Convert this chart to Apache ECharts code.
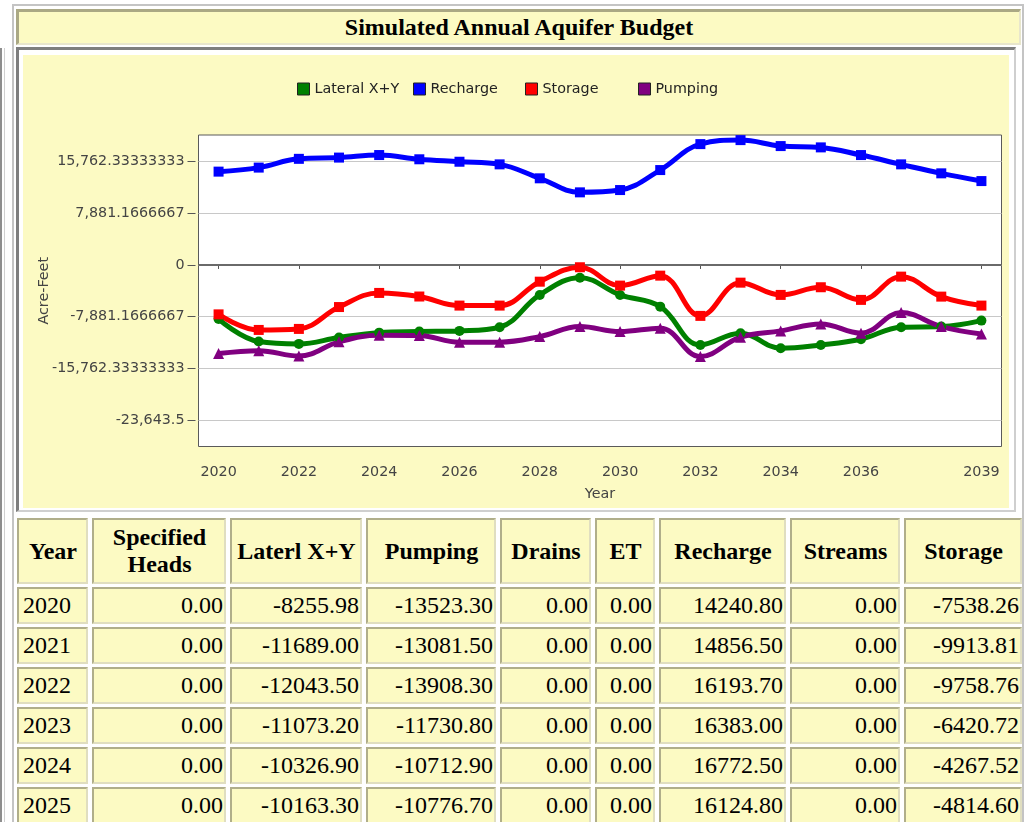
<!DOCTYPE html>
<html><head><meta charset="utf-8">
<script src="https://cdn.jsdelivr.net/npm/echarts@6/dist/echarts.min.js"></script>
<style>
html,body{margin:0;padding:0;width:1030px;height:822px;overflow:hidden;background:#fff;}
#leftbar{position:absolute;left:0;top:48px;width:2px;height:800px;border-left:2px solid #8e8e8e;border-right:1px solid #d0d0d0;}
#frame{position:absolute;left:12px;top:4px;width:1008px;height:900px;border:2px solid #c4c4c4;border-bottom:none;}
#title{position:absolute;left:16px;top:9px;width:1000px;height:31px;background:#FCFAC3;
  border-style:solid;border-width:3px 2px 2px 3px;border-color:#aaa884 #e8e6cc #e8e6cc #aaa884;
  font-family:"Liberation Serif",serif;font-weight:bold;font-size:24px;line-height:31px;text-align:center;color:#000;}
#chartcell{position:absolute;left:16px;top:47px;width:995px;height:460px;background:#fff;
  border-style:solid;border-width:3px 2px 2px 3px;border-color:#7e7e7e #cfcfcf #cfcfcf #7e7e7e;}
#chart{position:absolute;left:23px;top:55px;width:986px;height:453px;background:#FCFAC3;}
#tbl{position:absolute;left:17px;top:518px;display:grid;
  grid-template-columns:71px 134px 132px 130px 91px 60px 127px 110px 118px;
  grid-template-rows:66px;grid-auto-rows:37px;column-gap:4px;row-gap:3px;}
.c{box-sizing:border-box;background:#FCFAC3;border-style:solid;border-width:2px;
  border-color:#b0ae8a #e0dec0 #e0dec0 #b0ae8a;font-family:"Liberation Serif",serif;font-size:24px;color:#000;
  display:flex;align-items:center;justify-content:flex-end;padding:0 1px 0 2px;white-space:nowrap;}
.h{font-weight:bold;justify-content:center;text-align:center;line-height:27px;white-space:normal;}
.y{justify-content:flex-start;padding-left:4px;}
</style></head><body>
<div id="leftbar"></div>
<div id="frame"></div>
<div id="title">Simulated Annual Aquifer Budget</div>
<div id="chartcell"></div>
<div id="chart"></div>
<div id="tbl"></div>
<script>
// ---- data ----
const years = [2020,2021,2022,2023,2024,2025,2026,2027,2028,2029,2030,2031,2032,2033,2034,2035,2036,2037,2038,2039];
const lateral = [-8255.98,-11689.00,-12043.50,-11073.20,-10326.90,-10163.30,-10060,-9500,-4570,-1940,-4570,-6360,-12200,-10410,-12700,-12200,-11330,-9500,-9400,-8490];
const recharge = [14240.80,14856.50,16193.70,16383.00,16772.50,16124.80,15750,15350,13220,11080,11430,14480,18440,19050,18140,17940,16770,15350,13980,12800];
const storage = [-7538.26,-9913.81,-9758.76,-6420.72,-4267.52,-4814.60,-6200,-6200,-2550,-350,-3150,-1630,-7770,-2700,-4570,-3400,-5330,-1780,-4830,-6200];
const pumping = [-13523.30,-13081.50,-13908.30,-11730.80,-10712.90,-10776.70,-11780,-11780,-10930,-9400,-10170,-9650,-13980,-11020,-10060,-8990,-10410,-7270,-9400,-10520];
const specifiedHeads = [0,0,0,0,0,0,0,0,0,0,0,0,0,0,0,0,0,0,0,0];
const drains = [0,0,0,0,0,0,0,0,0,0,0,0,0,0,0,0,0,0,0,0];
const et = [0,0,0,0,0,0,0,0,0,0,0,0,0,0,0,0,0,0,0,0];
const streams = [0,0,0,0,0,0,0,0,0,0,0,0,0,0,0,0,0,0,0,0];
const seriesNames = ['Lateral X+Y','Recharge','Storage','Pumping'];
const tableHeaders = ['Year','Specified<br>Heads','Laterl X+Y','Pumping','Drains','ET','Recharge','Streams','Storage'];
const xTickValues = [2020,2022,2024,2026,2028,2030,2032,2034,2036,2039];
const yTickValues = [-23643.5,-15762.333333333334,-7881.166666666667,0,7881.166666666667,15762.333333333334];
const yTickLabels = ['-23,643.5','-15,762.33333333','-7,881.1666667','0','7,881.1666667','15,762.33333333'];

// ---- table ----
const tbl = document.getElementById('tbl');
let html = '';
tableHeaders.forEach(h => html += '<div class="c h">' + h + '</div>');
years.forEach((y, i) => {
  const vals = [specifiedHeads[i], lateral[i], pumping[i], drains[i], et[i], recharge[i], streams[i], storage[i]];
  html += '<div class="c y">' + y + '</div>';
  vals.forEach(v => html += '<div class="c">' + v.toFixed(2) + '</div>');
});
tbl.innerHTML = html;

// ---- chart ----
const chart = echarts.init(document.getElementById('chart'), null, {renderer: 'canvas'});
const font = 'DejaVu Sans';
const pairs = arr => years.map((y, i) => [y, arr[i]]);
const legendBase = {
  padding: 0, itemWidth: 12, itemHeight: 12, icon: 'rect',
  itemStyle: {borderColor: '#222', borderWidth: 1},
  textStyle: {fontFamily: font, fontSize: 14.3, color: '#222'}
};
const mkSeries = (name, data, color, symbol, size) => ({
  name, type: 'line', data: pairs(data), smooth: 0.4,
  symbol, symbolSize: size, showSymbol: true,
  lineStyle: {color, width: 5}, itemStyle: {color},
  emphasis: {disabled: true}, z: 3
});
const s0 = mkSeries(seriesNames[0], lateral, '#008000', 'circle', 10);
s0.markLine = {silent: true, symbol: 'none', label: {show: false},
  lineStyle: {color: '#6a6a6a', width: 2, type: 'solid'}, data: [{yAxis: 0}], z: 1};
chart.setOption({
  animation: false,
  legend: [
    Object.assign({}, legendBase, {data: [seriesNames[0]], left: 274, top: 27}),
    Object.assign({}, legendBase, {data: [seriesNames[1]], left: 390, top: 27}),
    Object.assign({}, legendBase, {data: [seriesNames[2]], left: 502, top: 27}),
    Object.assign({}, legendBase, {data: [seriesNames[3]], left: 615, top: 27})
  ],
  grid: {left: 175.5, right: 7.5, top: 80, bottom: 61.5, show: true, containLabel: false,
    outerBoundsMode: 'none',
    backgroundColor: '#fff', borderColor: '#5a5a5a', borderWidth: 1},
  xAxis: {
    type: 'value', min: 2019.5, max: 2039.5, offset: 2.5,
    name: 'Year', nameLocation: 'middle', nameGap: 38, nameMoveOverlap: false,
    nameTextStyle: {fontFamily: font, fontSize: 14.3, color: '#444'},
    axisLine: {show: true, lineStyle: {color: '#8a8a8a'}},
    axisTick: {show: true, length: 4, customValues: xTickValues, lineStyle: {color: '#555'}},
    axisLabel: {customValues: xTickValues, margin: 16, fontFamily: font, fontSize: 14.3, color: '#444',
      formatter: v => String(v)},
    splitLine: {show: false}
  },
  yAxis: {
    type: 'value', min: -27700, max: 19830, offset: 3,
    name: 'Acre-Feet', nameLocation: 'middle', nameGap: 144, nameRotate: 90, nameMoveOverlap: false,
    nameTextStyle: {fontFamily: font, fontSize: 14.3, color: '#444'},
    axisLine: {show: false},
    axisTick: {show: true, length: 8, customValues: yTickValues, lineStyle: {color: '#555'}},
    axisLabel: {customValues: yTickValues, margin: 11, fontFamily: font, fontSize: 14.3, color: '#444',
      formatter: v => {
        let best = 0;
        yTickValues.forEach((t, i) => { if (Math.abs(t - v) < Math.abs(yTickValues[best] - v)) best = i; });
        return yTickLabels[best];
      }},
    splitLine: {show: true, lineStyle: {color: '#c8c8c8', width: 1}}
  },
  series: [
    s0,
    mkSeries(seriesNames[1], recharge, '#0000ff', 'rect', 10),
    mkSeries(seriesNames[2], storage, '#ff0000', 'rect', 10),
    mkSeries(seriesNames[3], pumping, '#800080', 'triangle', 11)
  ]
});
</script>
</body></html>
